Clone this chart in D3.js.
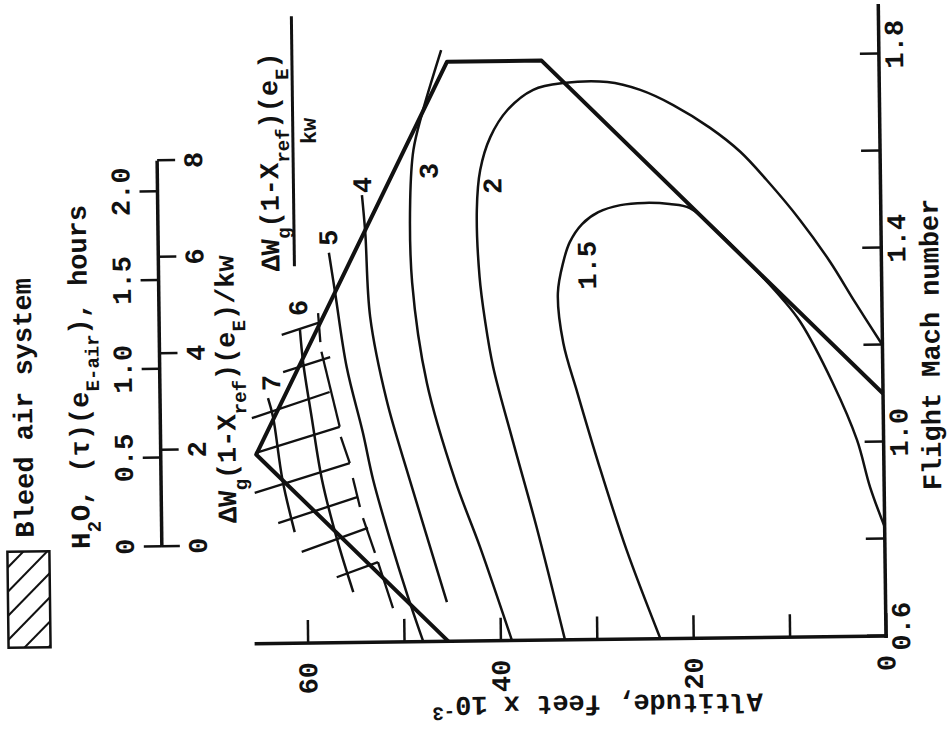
<!DOCTYPE html>
<html>
<head>
<meta charset="utf-8">
<title>Bleed air system - altitude vs flight Mach number</title>
<script src="https://cdn.jsdelivr.net/npm/d3@7"></script>
<style>
  body { margin: 0; background: #fff; }
  text { font-family: "Liberation Mono", "DejaVu Sans Mono", monospace; font-weight: bold; fill: #111; }
</style>
</head>
<body>
<div id="chart"></div>
<script>
// tick values
var machTicks = [0.6, 0.8, 1.0, 1.2, 1.4, 1.6, 1.8];
var machLabels = [0.6, 1.0, 1.4, 1.8];
var altTicks = [0, 10, 20, 30, 40, 50, 60];
var altLabels = [0, 20, 40, 60];
var hourTicks = [0, 0.5, 1.0, 1.5, 2.0];
var kwTicks = [0, 2, 4, 6, 8];

// operating boundary, [mach, altitude (1000 ft)]
var boundary = [[0.60, 45.4], [0.99, 65.1], [1.795, 44.8], [1.795, 35.0], [1.10, 0]];

// contour lines, [mach, altitude]
var c15 = [[0.60, 23.4], [0.784, 26.8], [0.956, 29.5], [1.109, 31.7], [1.212, 33.1], [1.315, 33.6],
           [1.379, 33.0], [1.420, 32.3], [1.457, 31.0], [1.481, 29.3], [1.495, 27.0], [1.499, 24.5],
           [1.496, 21.9], [1.487, 19.8], [1.433, 16.7], [1.370, 13.6], [1.297, 10.3], [1.250, 8.5],
           [1.123, 5.2], [1.005, 2.76], [0.908, 1.47], [0.825, 0]];
var c2 = [[0.60, 33.3], [0.833, 36.1], [1.007, 38.4], [1.164, 40.4], [1.262, 41.2], [1.350, 41.7],
          [1.489, 41.9], [1.571, 41.5], [1.639, 40.4], [1.694, 38.6], [1.735, 35.9], [1.748, 32.8],
          [1.749, 28.2], [1.732, 24.8], [1.700, 21.4], [1.652, 17.6], [1.602, 14.5], [1.543, 11.8],
          [1.460, 8.4], [1.373, 5.33], [1.289, 2.79], [1.200, 0]];
var c3 = [[1.819, 45.4], [1.686, 47.5], [1.614, 48.4], [1.511, 48.8], [1.340, 48.7], [1.133, 47.3],
          [0.932, 44.5], [0.794, 42.0], [0.60, 38.8]];
var c4 = [[1.522, 53.8], [1.444, 53.5], [1.271, 53.1], [1.099, 51.5], [0.934, 49.2], [0.681, 45.5]];
var c5 = [[1.404, 57.3], [1.321, 56.7], [1.168, 55.6], [1.032, 54.0], [0.935, 53.0], [0.810, 51.3],
          [0.697, 49.6], [0.60, 48.0]];
var c6 = [[1.246, 60.4], [1.177, 60.1], [1.066, 59.3], [0.936, 58.3], [0.812, 56.8], [0.704, 55.2]];
var c7 = [[1.106, 63.8], [1.067, 63.3], [0.937, 62.4], [0.829, 61.2]];

// contour labels
var labelText = ["1.5", "2", "3", "4", "5", "6", "7"];
var labelMach = [1.372, 1.538, 1.570, 1.543, 1.435, 1.291, 1.137];
var labelAlt = [30.6, 40.3, 46.9, 53.8, 57.4, 60.6, 63.5];

// bleed air grid, cross strokes and the broken edge
var hatchCross = [
  [[1.236, 62.3], [1.260, 58.5]], [[1.159, 62.2], [1.189, 57.3]], [[1.065, 65.5], [1.117, 57.4]],
  [[0.993, 65.2], [1.045, 56.4]], [[0.911, 65.3], [0.970, 55.4]], [[0.848, 62.9], [0.900, 54.6]],
  [[0.788, 60.5], [0.836, 53.6]], [[0.735, 56.9], [0.765, 52.6]]];
var hatchEdge = [
  [[1.280, 58.5], [1.220, 58.3]], [[1.200, 58.2], [1.045, 56.4]], [[1.024, 56.3], [0.970, 55.4]],
  [[0.939, 55.1], [0.879, 54.4]], [[0.856, 54.1], [0.784, 52.9]], [[0.765, 52.6], [0.670, 51.1]]];

var svgWidth = 951;
var svgHeight = 736;
var fontSize = 27;

var svg = d3.select("#chart")
    .append("svg")
    .attr("width", svgWidth)
    .attr("height", svgHeight);

svg.append("rect").attr("width", svgWidth).attr("height", svgHeight).attr("fill", "#fff");

// the figure is laid out upright, then turned a quarter turn (plus the small tilt of the scan)
var fig = svg.append("g")
    .attr("transform", "rotate(-0.7, 884, 637) translate(0, 736) rotate(-90)");

// scales
var x = d3.scaleLinear().domain([0.6, 1.8]).range([100, 682]);
var y = d3.scaleLinear().domain([0, 60]).range([886, 307.6]);

var straight = d3.line().x(d => x(d[0])).y(d => y(d[1]));
var smooth = d3.line().x(d => x(d[0])).y(d => y(d[1])).curve(d3.curveCatmullRom.alpha(0.5));

// axes
var xAxis = d3.axisBottom(x)
    .tickValues(machTicks)
    .tickSize(-19)
    .tickSizeOuter(0)
    .tickPadding(5)
    .tickFormat(d => machLabels.indexOf(d) >= 0 ? d3.format(".1f")(d) : "");

var yAxis = d3.axisLeft(y)
    .tickValues(altTicks)
    .tickSize(-23)
    .tickSizeOuter(0)
    .tickPadding(19)
    .tickFormat(d => altLabels.indexOf(d) >= 0 ? d : "");

var gx = fig.append("g").attr("transform", `translate(0, ${y(0)})`).call(xAxis);
var gy = fig.append("g").attr("transform", `translate(${x(0.6)}, 0)`).call(yAxis);

[gx, gy].forEach(function(g) {
    g.select(".domain").remove();
    g.selectAll(".tick line").attr("stroke", "#111").attr("stroke-width", 2.5);
    g.selectAll(".tick text").attr("font-size", fontSize);
});
// mach labels sit a little above their ticks in the original
gx.selectAll(".tick text").attr("dx", 9);

fig.append("line")
    .attr("x1", x(0.6) - 2).attr("x2", x(1.903))
    .attr("y1", y(0)).attr("y2", y(0))
    .attr("stroke", "#111").attr("stroke-width", 3.5);

fig.append("line")
    .attr("x1", x(0.6)).attr("x2", x(0.6))
    .attr("y1", y(0) + 2).attr("y2", y(65.5))
    .attr("stroke", "#111").attr("stroke-width", 3.5);

// axis titles
fig.append("text")
    .attr("x", x(1.2))
    .attr("y", 943)
    .attr("text-anchor", "middle")
    .attr("font-size", fontSize)
    .text("Flight Mach number");

var altTitle = fig.append("text")
    .attr("transform", `translate(44, ${y(30)}) rotate(-90)`)
    .attr("text-anchor", "middle")
    .attr("font-size", fontSize);
altTitle.append("tspan").text("Altitude, feet x 10");
altTitle.append("tspan").attr("dy", -10).attr("font-size", 19).text("-3");

// contours
fig.append("g")
    .selectAll("path")
    .data([c15, c2, c3, c4, c5, c6, c7])
    .enter()
    .append("path")
    .attr("d", smooth)
    .attr("fill", "none")
    .attr("stroke", "#111")
    .attr("stroke-width", 2.5);

// bleed air grid
fig.append("g")
    .selectAll("path")
    .data(hatchCross.concat(hatchEdge))
    .enter()
    .append("path")
    .attr("d", straight)
    .attr("fill", "none")
    .attr("stroke", "#111")
    .attr("stroke-width", 2.3);

// boundary
fig.append("path")
    .attr("d", straight(boundary))
    .attr("fill", "none")
    .attr("stroke", "#111")
    .attr("stroke-width", 4)
    .attr("stroke-linejoin", "round");

// contour labels
fig.append("g")
    .selectAll("text")
    .data(labelText)
    .enter()
    .append("text")
    .attr("x", (d, i) => x(labelMach[i]))
    .attr("y", (d, i) => y(labelAlt[i]))
    .attr("dy", "0.35em")
    .attr("text-anchor", "middle")
    .attr("font-size", fontSize)
    .text(d => d);

// legend box
fig.append("clipPath").attr("id", "boxClip")
    .append("rect").attr("x", 99).attr("y", 8.5).attr("width", 96).attr("height", 42);

fig.append("g")
    .attr("clip-path", "url(#boxClip)")
    .selectAll("line")
    .data(d3.range(-40, 120, 24))
    .enter()
    .append("line")
    .attr("x1", d => 99 + d).attr("y1", 8.5)
    .attr("x2", d => 141 + d).attr("y2", 50.5)
    .attr("stroke", "#111").attr("stroke-width", 2);

fig.append("rect")
    .attr("x", 99).attr("y", 8.5).attr("width", 96).attr("height", 42)
    .attr("fill", "none").attr("stroke", "#111").attr("stroke-width", 2.5);

fig.append("text")
    .attr("x", 209).attr("y", 35)
    .attr("font-size", fontSize)
    .text("Bleed air system");

// H2O title
var h2o = fig.append("text").attr("x", 197).attr("y", 91).attr("font-size", fontSize);
h2o.append("tspan").text("H");
h2o.append("tspan").attr("baseline-shift", "sub").attr("font-size", 19).text("2");
h2o.append("tspan").text("O, (τ)(e");
h2o.append("tspan").attr("baseline-shift", "sub").attr("font-size", 19).text("E-air");
h2o.append("tspan").text("), hours");

// double scale: hours above, kw units below
var hours = d3.scaleLinear().domain([0, 2]).range([198, 553]);
var kw = d3.scaleLinear().domain([0, 8]).range([198, 584]);

var gh = fig.append("g").attr("transform", "translate(0, 163)")
    .call(d3.axisTop(hours).tickValues(hourTicks).tickSize(18).tickSizeOuter(0).tickPadding(10)
        .tickFormat(d => d === 0 ? "0" : d3.format(".1f")(d)));

var gk = fig.append("g").attr("transform", "translate(0, 163)")
    .call(d3.axisBottom(kw).tickValues(kwTicks).tickSize(18).tickSizeOuter(0).tickPadding(8));

gh.select(".domain").remove();
gk.select(".domain").remove();
[gh, gk].forEach(function(g) {
    g.selectAll(".tick line").attr("stroke", "#111").attr("stroke-width", 2.5);
    g.selectAll(".tick text").attr("font-size", fontSize);
});

fig.append("line")
    .attr("x1", kw(0)).attr("x2", kw(8))
    .attr("y1", 163).attr("y2", 163)
    .attr("stroke", "#111").attr("stroke-width", 3.5);

// label under the scale
function weightText(sel) {
    sel.append("tspan").text("ΔW");
    sel.append("tspan").attr("baseline-shift", "sub").attr("font-size", 19).text("g");
    sel.append("tspan").text("(1-X");
    sel.append("tspan").attr("baseline-shift", "sub").attr("font-size", 19).text("ref");
    sel.append("tspan").text(")(e");
    sel.append("tspan").attr("baseline-shift", "sub").attr("font-size", 19).text("E");
    sel.append("tspan").text(")");
}

var wLabel = fig.append("text").attr("x", 221).attr("y", 238).attr("font-size", fontSize);
weightText(wLabel);
wLabel.append("tspan").text("/kw");

// fraction label at the top of the chart
var num = fig.append("text").attr("x", 472).attr("y", 284).attr("font-size", fontSize);
weightText(num);

fig.append("line")
    .attr("x1", 477).attr("x2", 727)
    .attr("y1", 299).attr("y2", 299)
    .attr("stroke", "#111").attr("stroke-width", 3);

fig.append("text")
    .attr("x", 612).attr("y", 322)
    .attr("text-anchor", "middle")
    .attr("font-size", 22)
    .text("kw");
</script>
</body>
</html>
